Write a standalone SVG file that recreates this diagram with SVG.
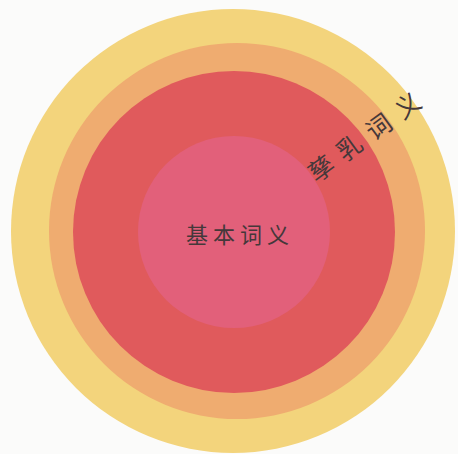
<svg xmlns="http://www.w3.org/2000/svg" width="458" height="454" viewBox="0 0 458 454">
<style>
.lbl{font-family:"Noto Sans CJK SC","Noto Sans CJK TC",sans-serif;fill:#45383a;font-weight:400;text-anchor:middle}
.core{font-size:22px}
.der{font-size:25px}
</style>
<rect width="458" height="454" fill="#fbfbfa"/>
<g id="ring-outer"><circle cx="233" cy="231" r="222" fill="#f3d47c"/></g>
<g id="ring-middle"><circle cx="237" cy="231" r="188" fill="#efac70"/></g>
<g id="ring-inner"><circle cx="234" cy="232" r="161" fill="#e05a5c"/></g>
<g id="core"><circle cx="234" cy="232" r="96" fill="#e2607a"/></g>
<g id="label-core"><text class="lbl core" x="240" y="243" letter-spacing="5">基本词义</text></g>
<g id="label-derived" transform="translate(234,232) rotate(-36)">
<text class="lbl der" x="108" y="9">孳</text>
<text class="lbl der" x="143" y="9">乳</text>
<text class="lbl der" x="179" y="9">词</text>
<text class="lbl der" x="215" y="9">义</text>
</g>
</svg>
